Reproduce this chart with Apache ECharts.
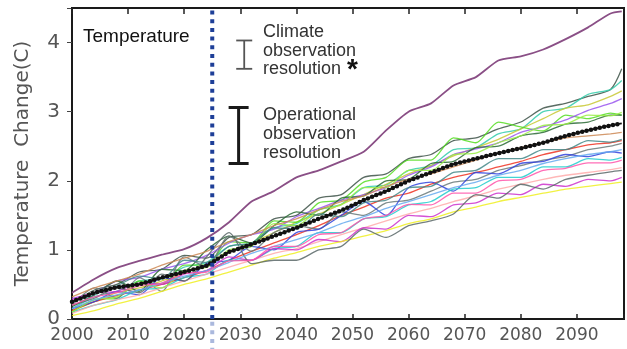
<!DOCTYPE html>
<html>
<head>
<meta charset="utf-8">
<script src="https://cdn.jsdelivr.net/npm/echarts@6/dist/echarts.min.js"></script>
<style>
html, body { margin: 0; padding: 0; background: #fff; }
#chart { width: 627px; height: 349px; }
</style>
</head>
<body>
<div id="chart"></div>
<script>
// sample years shared by all model runs
const years = [2000, 2004, 2008, 2012, 2016, 2020, 2024, 2028, 2032, 2036, 2040, 2044, 2048,
    2052, 2056, 2060, 2064, 2068, 2072, 2076, 2080, 2084, 2088, 2092, 2096, 2098]

// ensemble mean (black dotted) and the warm outlier (purple)
const meanLine = [0.25, 0.38, 0.46, 0.50, 0.60, 0.68, 0.77, 0.97, 1.08, 1.20, 1.32, 1.45, 1.57,
    1.72, 1.85, 2.00, 2.12, 2.24, 2.32, 2.40, 2.47, 2.55, 2.65, 2.73, 2.80, 2.83]
const outlierLine = [0.38, 0.58, 0.74, 0.84, 0.93, 1.01, 1.17, 1.40, 1.70, 1.85, 2.05, 2.15, 2.28,
    2.42, 2.73, 3.00, 3.12, 3.38, 3.50, 3.74, 3.80, 3.90, 4.05, 4.22, 4.42, 4.45]

// individual model runs
const model01 = [0.22, 0.42, 0.50, 0.68, 0.72, 0.92, 0.88, 1.18, 1.22, 1.45, 1.50, 1.75, 1.80, 2.05, 2.10, 2.32, 2.38, 2.58, 2.62, 2.75, 2.85, 3.05, 3.12, 3.22, 3.32, 3.62]
const model02 = [0.15, 0.32, 0.40, 0.55, 0.58, 0.75, 0.82, 1.05, 1.10, 1.32, 1.38, 1.58, 1.66, 1.90, 1.94, 2.15, 2.22, 2.45, 2.48, 2.68, 2.75, 3.00, 3.05, 3.25, 3.32, 3.45]
const model03 = [0.12, 0.25, 0.38, 0.45, 0.55, 0.66, 0.80, 0.98, 1.10, 1.25, 1.40, 1.52, 1.66, 1.80, 1.95, 2.10, 2.22, 2.36, 2.48, 2.60, 2.75, 2.90, 3.05, 3.10, 3.22, 3.30]
const model04 = [0.10, 0.28, 0.30, 0.55, 0.50, 0.78, 0.78, 1.12, 1.10, 1.42, 1.40, 1.68, 1.72, 1.98, 2.05, 2.30, 2.30, 2.62, 2.55, 2.85, 2.78, 2.72, 2.95, 2.90, 2.98, 2.95]
const model05 = [0.30, 0.38, 0.55, 0.60, 0.72, 0.80, 0.92, 1.10, 1.22, 1.30, 1.48, 1.60, 1.72, 1.80, 1.90, 2.08, 2.20, 2.38, 2.46, 2.55, 2.70, 2.78, 2.88, 3.02, 3.12, 3.19]
const model06 = [0.18, 0.35, 0.55, 0.40, 0.72, 0.70, 1.00, 1.20, 1.10, 1.35, 1.55, 1.50, 1.75, 1.78, 2.00, 2.02, 2.25, 2.28, 2.48, 2.50, 2.65, 2.70, 2.82, 2.85, 2.95, 2.95]
const model07 = [0.12, 0.25, 0.34, 0.42, 0.50, 0.60, 0.70, 0.85, 0.98, 1.10, 1.22, 1.35, 1.50, 1.62, 1.75, 1.82, 1.95, 2.05, 2.12, 2.20, 2.28, 2.38, 2.45, 2.52, 2.55, 2.58]
const model08 = [0.20, 0.45, 0.30, 0.60, 0.40, 0.90, 0.75, 1.20, 0.98, 1.25, 1.35, 1.30, 1.55, 1.50, 1.68, 1.72, 1.85, 1.98, 2.02, 2.15, 2.22, 2.30, 2.35, 2.45, 2.50, 2.54]
const model09 = [0.15, 0.25, 0.40, 0.35, 0.60, 0.55, 0.80, 0.85, 1.05, 1.00, 1.25, 1.30, 1.50, 1.70, 1.50, 1.90, 1.98, 1.85, 2.12, 2.10, 2.25, 2.28, 2.38, 2.35, 2.42, 2.40]
const model10 = [0.10, 0.20, 0.28, 0.42, 0.45, 0.60, 0.65, 0.85, 0.85, 1.02, 1.05, 1.25, 1.25, 1.45, 1.48, 1.65, 1.70, 1.88, 1.90, 2.05, 2.05, 2.20, 2.20, 2.32, 2.30, 2.34]
const model11 = [0.08, 0.20, 0.28, 0.35, 0.45, 0.55, 0.65, 0.75, 0.85, 0.95, 1.02, 1.12, 1.22, 1.32, 1.42, 1.52, 1.60, 1.70, 1.78, 1.88, 1.95, 2.02, 2.08, 2.12, 2.16, 2.19]
const model12 = [0.28, 0.38, 0.40, 0.52, 0.50, 0.65, 0.70, 0.90, 0.85, 1.02, 1.00, 1.15, 1.12, 1.32, 1.30, 1.50, 1.48, 1.65, 1.68, 1.82, 1.80, 1.95, 1.92, 2.02, 2.00, 2.05]
const model13 = [0.05, 0.12, 0.22, 0.30, 0.40, 0.50, 0.58, 0.68, 0.78, 0.88, 0.96, 1.05, 1.12, 1.20, 1.28, 1.38, 1.45, 1.55, 1.62, 1.70, 1.76, 1.82, 1.88, 1.92, 1.96, 1.98]
const model14 = [0.20, 0.30, 0.45, 0.38, 0.65, 0.55, 0.90, 1.25, 0.80, 0.85, 0.85, 1.00, 1.05, 1.30, 1.18, 1.35, 1.42, 1.52, 1.80, 1.75, 1.95, 1.88, 2.02, 2.08, 2.13, 2.15]
const model15 = [0.10, 0.28, 0.32, 0.52, 0.45, 0.70, 0.75, 1.00, 1.05, 1.38, 1.35, 1.58, 1.65, 1.90, 1.90, 2.15, 2.15, 2.38, 2.40, 2.55, 2.65, 2.80, 2.82, 2.95, 2.94, 2.99]
const model16 = [0.32, 0.45, 0.55, 0.65, 0.78, 0.88, 0.98, 1.12, 1.22, 1.35, 1.45, 1.58, 1.70, 1.78, 1.92, 2.02, 2.10, 2.20, 2.30, 2.40, 2.48, 2.55, 2.62, 2.65, 2.68, 2.70]
const model17 = [0.15, 0.28, 0.35, 0.42, 0.52, 0.62, 0.70, 0.82, 0.95, 1.05, 1.15, 1.25, 1.38, 1.48, 1.60, 1.70, 1.80, 1.90, 1.98, 2.08, 2.15, 2.25, 2.32, 2.38, 2.42, 2.45]
const model18 = [0.25, 0.35, 0.48, 0.62, 0.58, 0.85, 0.82, 1.05, 1.10, 1.32, 1.30, 1.52, 1.48, 1.68, 1.72, 1.90, 1.92, 2.12, 2.15, 2.32, 2.32, 2.45, 2.45, 2.58, 2.56, 2.60]
const model19 = [0.20, 0.32, 0.38, 0.48, 0.52, 0.66, 0.68, 0.84, 0.85, 1.05, 1.05, 1.22, 1.25, 1.45, 1.50, 1.66, 1.65, 1.82, 1.82, 2.00, 2.02, 2.15, 2.18, 2.26, 2.26, 2.30]

const models = [model01, model02, model03, model04, model05, model06, model07, model08, model09, model10,
    model11, model12, model13, model14, model15, model16, model17, model18, model19]
const modelColors = ['#3d5248', '#33ccaa', '#c8c832', '#55dd22', '#9955ee', '#2a6a35', '#ee3322', '#6a7a7a', '#3344dd', '#22cccc',
    '#ffaaaa', '#cc33cc', '#eeee22', '#5a6868', '#99ee44', '#cc8855', '#66aaee', '#448888', '#ff55aa']

// "now" marker and the two resolution bars [year, low, high]
const nowYear = 2025
const resolutionBars = [[2030.7, 3.62, 4.03], [2029.7, 2.25, 3.06]]

const pairs = (vals) => vals.map((v, i) => [years[i], v])

let series = models.map((m, i) => ({
    type: 'line',
    data: pairs(m),
    symbol: 'none',
    smooth: 0.25,
    lineStyle: { color: modelColors[i], width: 1.3, opacity: 0.85 },
    z: 2
}))

series.push({
    type: 'line',
    data: pairs(outlierLine),
    symbol: 'none',
    smooth: 0.2,
    lineStyle: { color: '#8a4f86', width: 1.8 },
    z: 3
})
series.push({
    type: 'line',
    data: pairs(meanLine),
    symbol: 'none',
    lineStyle: { color: '#111', width: 1.8 },
    z: 4
})
series.push({
    type: 'line',
    data: pairs(meanLine),
    symbol: 'none',
    lineStyle: { color: '#111', width: 4.5, type: [0, 4.5], cap: 'round' },
    z: 5
})
// vertical dotted line, darker inside the plot, pale below the axis
series.push({
    type: 'line',
    data: [[nowYear, 0], [nowYear, 4.5]],
    symbol: 'none',
    lineStyle: { color: '#1e3f98', width: 4, type: [4, 4.7] },
    z: 6
})
series.push({
    type: 'line',
    data: [[nowYear, -0.6], [nowYear, 0]],
    symbol: 'none',
    clip: false,
    lineStyle: { color: '#aab8dd', width: 4, type: [4, 4.7] },
    z: 6
})
series.push({
    type: 'custom',
    data: resolutionBars,
    z: 7,
    renderItem: function (params, api) {
        let top = api.coord([api.value(0), api.value(2)])
        let bot = api.coord([api.value(0), api.value(1)])
        let big = params.dataIndex === 1
        let half = big ? 10 : 8
        let style = { stroke: big ? '#1a1a1a' : '#555', lineWidth: big ? 3 : 1.8 }
        return {
            type: 'group',
            children: [
                { type: 'line', shape: { x1: top[0], y1: top[1], x2: bot[0], y2: bot[1] }, style: style },
                { type: 'line', shape: { x1: top[0] - half, y1: top[1], x2: top[0] + half, y2: top[1] }, style: style },
                { type: 'line', shape: { x1: bot[0] - half, y1: bot[1], x2: bot[0] + half, y2: bot[1] }, style: style }
            ]
        }
    }
})

let dom = echarts.init(document.getElementById('chart'))
let option = {
    animation: false,
    grid: {
        left: 72, right: 1, top: 8, bottom: 30,
        show: true, borderColor: '#1a1a1a', borderWidth: 2
    },
    xAxis: [
        {
            type: 'value', min: 2000, max: 2098.4, interval: 10,
            splitLine: { show: false },
            axisLine: { lineStyle: { color: '#1a1a1a', width: 2 } },
            axisTick: { inside: true, length: 5, lineStyle: { color: '#222', width: 1.5 } },
            axisLabel: {
                color: '#555', fontSize: 17, fontFamily: 'DejaVu Sans', margin: 8,
                formatter: v => (v % 10 === 0 ? String(v) : '')
            }
        },
        {
            type: 'value', position: 'top', min: 2000, max: 2098.4, interval: 10,
            splitLine: { show: false },
            axisLine: { lineStyle: { color: '#1a1a1a', width: 2 } },
            axisTick: { inside: true, length: 6, lineStyle: { color: '#222', width: 1.5 } },
            axisLabel: { show: false }
        }
    ],
    yAxis: {
        type: 'value', min: 0, max: 4.5, interval: 1,
        splitLine: { show: false },
        axisLine: { show: true, lineStyle: { color: '#1a1a1a', width: 2 } },
        axisTick: { show: true, length: 5, lineStyle: { color: '#444' } },
        axisLabel: {
            color: '#555', fontSize: 20, fontFamily: 'DejaVu Sans', margin: 12,
            formatter: v => (Number.isInteger(v) ? String(v) : '')
        },
        name: 'Temperature  Change(C)',
        nameLocation: 'middle',
        nameGap: 39,
        nameTextStyle: { color: '#555', fontSize: 20, fontFamily: 'DejaVu Sans' }
    },
    graphic: [
        { type: 'text', left: 83, top: 27, style: { text: 'Temperature', fill: '#111', font: '19px "Liberation Sans"' } },
        { type: 'text', left: 263, top: 23, style: { text: 'Climate\nobservation\nresolution', fill: '#333', font: '18px "Liberation Sans"', lineHeight: 18.5 } },
        { type: 'text', left: 347, top: 56, style: { text: '*', fill: '#111', font: 'bold 28px "Liberation Sans"' } },
        { type: 'text', left: 263, top: 106, style: { text: 'Operational\nobservation\nresolution', fill: '#333', font: '18px "Liberation Sans"', lineHeight: 19 } }
    ],
    series: series
}
dom.setOption(option)
</script>
</body>
</html>
